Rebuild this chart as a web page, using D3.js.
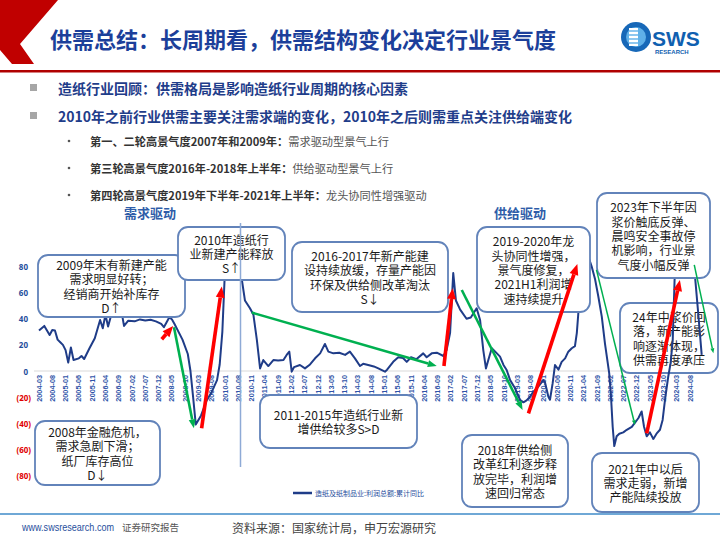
<!DOCTYPE html>
<html>
<head>
<meta charset="utf-8">
<script src="https://cdn.jsdelivr.net/npm/d3@7"></script>
<style>
  body { margin: 0; background: #fff; }
  svg { display: block; }
</style>
</head>
<body>
<div id="chart"></div>
<script>
// x axis category labels (one every 5 points)
var xLabels = ["2004-03","2004-08","2005-01","2005-06","2005-11","2006-04","2006-09","2007-02","2007-07","2007-12",
  "2008-05","2008-10","2009-03","2009-08","2010-01","2010-08","2010-11","2011-04","2011-09","2012-02",
  "2012-07","2012-12","2013-05","2013-10","2014-03","2014-08","2015-01","2015-06","2015-11","2016-04",
  "2016-09","2017-02","2017-07","2017-12","2018-05","2018-10","2019-03","2019-08","2020-01","2020-06",
  "2020-11","2021-04","2021-09","2022-02","2022-07","2022-12","2023-05","2023-10","2024-03","2024-08"];

var yTicks = [80, 60, 40, 20, 0, -20, -40, -60, -80];

// 造纸及纸制品业:利润总额:累计同比 (%), position along the category axis + value
var ptIdx = [0,2,4,5,6,7,8,9,10,11,12,13,15,16,17,19,21,23,24,25,26,27,28,29,30,31,32,33.6,36,38,40,42,44,46,47,49,50,51,
  54,56,57,58,59,61,63,65,67,68,69,70,71,72,73,74,75.6,77.5,79.4,80.7,82,83.2,84.4,86.3,88.2,90,92,93.2,94.2,95.1,96,
  98.2,100.1,102,103.9,105.8,107.6,108.9,110.8,113,115.2,117,118.9,120.8,122,123.9,126,127.7,130.2,131,133.3,135.2,
  137,138.4,140,142,144.6,145.9,147.8,149.7,152.2,153.4,154.7,155.9,156.9,158.5,160.9,162.5,164.7,166,167.2,168.2,
  169.1,170.4,171.6,173.5,174.8,176,177.3,179.1,181,182.3,183.5,184.8,186,187.9,189.8,190.4,191.7,192.3,193.3,194.2,
  195.5,196.7,198,199.2,200.5,201.7,202.4,203,204,205,206,207,208,209.3,210.5,211.8,213,213.7,214.6,215.2,215.9,
  216.5,217.4,218.4,219.9,221.2,223.1,224.3,225.6,226.8,227.7,228.7,229.9,231.2,232.4,233.7,234.7,235.6,236.8,237.7,
  238.5,239.2,240.5,242,244,246,246.9,248.1,249.4];
var ptVal = [31,34.5,27.6,31.4,31,24,22,20,16,6.4,18,8.4,9.7,11.5,9.2,17.4,25,39,32.7,43,34,41.6,50,56,52,46,34.5,38.5,38,39.5,38.7,39.2,38,36,33.5,41,39.6,36,
  24,13,0,-20,-41,-34,-23,-16,-7,5,30,78,92,100,96,90,80,54,48,43,23.7,2,8.4,3.8,8.4,8,8.4,12.3,14.8,-0.5,3,
  4.6,2,5,9.7,13.5,20.7,14.8,13.5,14,12.3,14.8,9.7,3.8,5.5,4.6,3.5,2,-0.5,1,7,10.5,
  10,7,10.5,9,13.5,10.5,13.5,14,11.5,16,29,75,54,47,40,41,48,39,16,2,
  8.4,17.4,15,11,4.6,0.8,-7,-13,-22,-24,-22.5,-19.7,-16,-12,-7,-8.5,-19.7,-22,-9.5,4.6,
  1,7,9.7,14.8,17.4,19,29,45,70,86,90,86,80,70,57,41.6,21,11,-1.8,-17,-42.7,
  -57.5,-50,-48,-47,-45,-42.7,-39.6,-36,-31,-42.7,-50,-47,-52,-48,-45,-37.5,-22,-4.4,6,
  23.7,70,85,92,90,80,72,44,12.3];

// trend arrows in data space: [idx1, val1, idx2, val2, kind]
var arrows = [
  [46.2, 24.3, 50.5, 34.5, "red"],
  [50.8, 33.5, 58.3, -43.9, "green"],
  [61.2, -43.9, 68.8, 64.6, "red"],
  [80.1, 44.7, 149.7, 3.8, "green"],
  [152.4, 3.8, 155.7, 63.4, "red"],
  [159.1, 62, 182, -29.9, "green"],
  [184.2, -32.4, 202.6, 82, "red"],
  [209.8, 77.4, 224.3, -41.4, "thin"],
  [228.7, -47.7, 241.2, 69.7, "red"],
  [246.6, 81.2, 253.8, 13.6, "thin"]
];

// annotation boxes: x, y, w, h, lines
var notesBack = [
  [620, 303, 98, 70, ["24年中浆价回", "落，新产能影", "响逐渐体现，", "供需再度承压"]]
];
var notes = [
  [38, 255, 147, 62, ["2009年末有新建产能", "需求明显好转；", "经销商开始补库存", "D↑"]],
  [178, 227, 107, 53, ["2010年造纸行", "业新建产能释放", "S↑"]],
  [292, 242, 156, 70, ["2016-2017年新产能建", "设持续放缓，存量产能因", "环保及供给侧改革淘汰", "S↓"]],
  [477, 227, 113, 85, ["2019-2020年龙", "头协同性增强，", "景气度修复，", "2021H1利润增", "速持续提升"]],
  [597, 193, 113, 85, ["2023年下半年因", "浆价触底反弹、", "晨鸣安全事故停", "机影响，行业景", "气度小幅反弹"]],
  [35, 421, 125, 64, ["2008年金融危机，", "需求急剧下滑；", "纸厂库存高位", "D↓"]],
  [260, 395, 157, 53, ["2011-2015年造纸行业新", "增供给较多S>D"]],
  [462, 435, 106, 72, ["2018年供给侧", "改革红利逐步释", "放完毕，利润增", "速回归常态"]],
  [592, 453, 107, 59, ["2021年中以后", "需求走弱，新增", "产能陆续投放"]]
];

var bullets = ["造纸行业回顾：供需格局是影响造纸行业周期的核心因素",
  "2010年之前行业供需主要关注需求端的变化，2010年之后则需重点关注供给端变化"];
var subBold = ["第一、二轮高景气度2007年和2009年：", "第三轮高景气度2016年-2018年上半年：", "第四轮高景气度2019年下半年-2021年上半年："];
var subNorm = ["需求驱动型景气上行", "供给驱动型景气上行", "龙头协同性增强驱动"];

var W = 720, H = 540;
var cjk = "'Noto Sans CJK SC', 'Noto Sans', sans-serif";
var navy = "#1f3c88";

var svg = d3.select("#chart").append("svg")
    .attr("width", W).attr("height", H);

// ---- header
svg.append("path")
    .attr("d", "M0,0 L58,0 L20,44 L34,64 L12,64 L0,50 Z")
    .attr("fill", "#c00000");
svg.append("rect").attr("x", 0).attr("y", 70).attr("width", W).attr("height", 2.5).attr("fill", "#b00000");

svg.append("text")
    .attr("x", 50).attr("y", 48)
    .attr("font-family", cjk).attr("font-weight", "bold").attr("font-size", "22px")
    .attr("fill", "#1c3f9a")
    .text("供需总结：长周期看，供需结构变化决定行业景气度");

// logo
var logo = svg.append("g").attr("transform", "translate(636,37)");
logo.append("circle").attr("r", 15).attr("fill", "#1768b8");
logo.append("circle").attr("r", 10).attr("fill", "#5fb0e8");
logo.append("rect").attr("x", -7).attr("y", -9).attr("width", 9).attr("height", 18).attr("fill", "#ffffff");
[-6, -2, 2, 6].forEach(function (d) {
  logo.append("rect").attr("x", -7).attr("y", d - 0.7).attr("width", 9).attr("height", 1.4).attr("fill", "#5fb0e8");
});
svg.append("text").attr("x", 652).attr("y", 46)
    .attr("font-family", "'Liberation Sans', Arial, sans-serif").attr("font-weight", "bold")
    .attr("font-size", "21px").attr("fill", "#1060b0").text("SWS");
svg.append("text").attr("x", 655).attr("y", 53.5)
    .attr("font-family", "'Liberation Sans', Arial, sans-serif").attr("font-weight", "bold")
    .attr("font-size", "6px").attr("fill", "#1060b0").text("RESEARCH");

// ---- bullets
bullets.forEach(function (t, k) {
  var yy = 88 + k * 28;
  svg.append("rect").attr("x", 30).attr("y", yy - 4).attr("width", 7).attr("height", 7).attr("fill", "#a6a6a6");
  svg.append("text").attr("x", 58).attr("y", yy)
      .attr("dominant-baseline", "central")
      .attr("font-family", cjk).attr("font-weight", "bold").attr("font-size", "14px")
      .attr("fill", "#1f3d8a").text(t);
});
subBold.forEach(function (t, k) {
  var yy = 141 + k * 27;
  svg.append("circle").attr("cx", 69).attr("cy", yy).attr("r", 1.3).attr("fill", "#555");
  var tx = svg.append("text").attr("x", 90).attr("y", yy)
      .attr("dominant-baseline", "central")
      .attr("font-family", cjk).attr("font-size", "11.2px");
  tx.append("tspan").attr("font-weight", "bold").attr("fill", "#333").text(t);
  tx.append("tspan").attr("fill", "#555").text(subNorm[k]);
});

// ---- chart scales
var x = d3.scaleLinear().domain([0, 245]).range([39, 690]);
var y = d3.scaleLinear().domain([-80, 80]).range([475.5, 266.5]);

svg.append("line")
    .attr("x1", 34).attr("x2", 702).attr("y1", y(0)).attr("y2", y(0))
    .attr("stroke", "#d9d9d9").attr("stroke-width", 1);

svg.selectAll(".ytick").data(yTicks).enter().append("text")
    .attr("class", "ytick")
    .attr("x", function (d) { return d < 0 ? 31 : 28; })
    .attr("y", function (d) { return y(d); })
    .attr("text-anchor", "end").attr("dominant-baseline", "central")
    .attr("font-family", "'Noto Sans', sans-serif").attr("font-weight", "bold").attr("font-size", "8px")
    .attr("fill", function (d) { return d < 0 ? "#e00000" : "#1f4e9c"; })
    .text(function (d) { return d < 0 ? "(" + (-d) + ")" : d; });

svg.selectAll(".xtick").data(xLabels).enter().append("text")
    .attr("class", "xtick")
    .attr("transform", function (d, k) { return "translate(" + (x(k * 5) + 2.5) + ",375) rotate(-90)"; })
    .attr("text-anchor", "end")
    .attr("font-family", "'Liberation Sans', Arial, sans-serif").attr("font-weight", "bold").attr("font-size", "7.3px")
    .attr("fill", "#2f54a8")
    .text(function (d) { return d; });

// annotation boxes
function drawNotes(list) {
  list.forEach(function (n) {
    var g = svg.append("g");
    g.append("rect")
        .attr("x", n[0]).attr("y", n[1]).attr("width", n[2]).attr("height", n[3])
        .attr("rx", 10).attr("ry", 10)
        .attr("fill", "#fff").attr("stroke", "#6283ba").attr("stroke-width", 1.8);
    var lh = 14.4, cy = n[1] + n[3] / 2, top = cy - (n[4].length - 1) * lh / 2;
    n[4].forEach(function (t, k) {
      g.append("text")
          .attr("x", n[0] + n[2] / 2).attr("y", top + k * lh)
          .attr("text-anchor", "middle").attr("dominant-baseline", "central")
          .attr("font-family", cjk).attr("font-size", "12px").attr("fill", "#1a1a1a")
          .text(t);
    });
  });
}

drawNotes(notesBack);

// series
var pts = ptIdx.map(function (d, k) { return [d, ptVal[k]]; });
var line = d3.line()
    .x(function (d) { return x(d[0]); })
    .y(function (d) { return y(d[1]); });
svg.append("path")
    .datum(pts)
    .attr("d", line)
    .attr("fill", "none").attr("stroke", navy).attr("stroke-width", 2)
    .attr("stroke-linejoin", "round");

drawNotes(notes);

// trend arrows
var style = {
  red: { c: "#ff0000", w: 3.6, hl: 11, hw: 9 },
  green: { c: "#00b050", w: 2.6, hl: 9, hw: 7 },
  thin: { c: "#00b050", w: 1.5, hl: 5, hw: 4 }
};
arrows.forEach(function (a) {
  var s = style[a[4]];
  var x1 = x(a[0]), y1 = y(a[1]), x2 = x(a[2]), y2 = y(a[3]);
  var dx = x2 - x1, dy = y2 - y1, len = Math.sqrt(dx * dx + dy * dy);
  var ux = dx / len, uy = dy / len;
  var bx = x2 - ux * s.hl, by = y2 - uy * s.hl;
  svg.append("line")
      .attr("x1", x1).attr("y1", y1).attr("x2", bx).attr("y2", by)
      .attr("stroke", s.c).attr("stroke-width", s.w);
  svg.append("path")
      .attr("d", "M" + x2 + "," + y2 +
        "L" + (bx - uy * s.hw / 2) + "," + (by + ux * s.hw / 2) +
        "L" + (bx + uy * s.hw / 2) + "," + (by - ux * s.hw / 2) + "Z")
      .attr("fill", s.c);
});

// separator between demand / supply eras
svg.append("line")
    .attr("x1", 240.5).attr("x2", 240.5).attr("y1", 223).attr("y2", 467)
    .attr("stroke", "#8eaad6").attr("stroke-width", 1.5);

svg.append("text").attr("x", 150).attr("y", 212)
    .attr("text-anchor", "middle").attr("dominant-baseline", "central")
    .attr("font-family", cjk).attr("font-weight", "bold").attr("font-size", "13px")
    .attr("fill", "#2e5ca8").text("需求驱动");
svg.append("text").attr("x", 520).attr("y", 212)
    .attr("text-anchor", "middle").attr("dominant-baseline", "central")
    .attr("font-family", cjk).attr("font-weight", "bold").attr("font-size", "13px")
    .attr("fill", "#2e5ca8").text("供给驱动");

// legend
svg.append("line").attr("x1", 293).attr("x2", 312).attr("y1", 493).attr("y2", 493)
    .attr("stroke", navy).attr("stroke-width", 2.5);
svg.append("text").attr("x", 315).attr("y", 493)
    .attr("dominant-baseline", "central")
    .attr("font-family", cjk).attr("font-size", "7px").attr("fill", "#1f4e9c")
    .text("造纸及纸制品业:利润总额:累计同比");

// footer
svg.append("rect").attr("x", 0).attr("y", 513).attr("width", W).attr("height", 2).attr("fill", "#6fa8d6");
svg.append("text").attr("x", 22).attr("y", 527).attr("dominant-baseline", "central")
    .attr("font-family", "'Liberation Sans', Arial, sans-serif").attr("font-size", "10.5px")
    .attr("textLength", 92).attr("lengthAdjust", "spacingAndGlyphs")
    .attr("fill", "#1f4e9c").text("www.swsresearch.com");
svg.append("text").attr("x", 122).attr("y", 527).attr("dominant-baseline", "central")
    .attr("font-family", cjk).attr("font-size", "9.5px").attr("fill", "#555").text("证券研究报告");
svg.append("text").attr("x", 232).attr("y", 527).attr("dominant-baseline", "central")
    .attr("font-family", cjk).attr("font-size", "12px").attr("fill", "#444").text("资料来源：国家统计局，申万宏源研究");
</script>
</body>
</html>
